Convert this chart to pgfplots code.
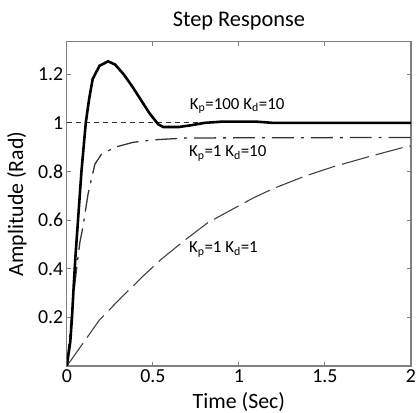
\documentclass[border=0pt]{standalone}
\usepackage{fontspec}
\setmainfont{Carlito}
\usepackage{pgfplots}
\pgfplotsset{compat=1.18}

\begin{document}
\begin{tikzpicture}
\begin{axis}[
    scale only axis,
    width=345bp, height=325bp,
    xmin=0, xmax=2, ymin=0, ymax=1.333,
    xtick={0,0.5,1,1.5,2},
    ytick={0.2,0.4,0.6,0.8,1,1.2},
    xticklabels={0,0.5,1,1.5,2},
    yticklabels={0.2,0.4,0.6,0.8,1,1.2},
    tick align=inside,
    major tick length=4bp,
    axis line style={draw=black!50, line width=1.2pt},
    every tick/.style={draw=black!50, line width=1pt},
    tick label style={font=\fontsize{20}{22}\selectfont},
    xticklabel style={inner xsep=0pt},
    yticklabel style={inner ysep=0pt},
    title={Step Response},
    title style={font=\fontsize{22.5}{24}\selectfont, at={(axis description cs:0.5,1)},
        anchor=south, inner sep=0pt, yshift=6bp},
    xlabel={Time (Sec)},
    xlabel style={font=\fontsize{22}{24}\selectfont, at={(axis description cs:0.5,0)},
        anchor=north, inner sep=0pt, yshift=-26bp},
    ylabel={Amplitude (Rad)},
    ylabel style={font=\fontsize{22}{24}\selectfont, at={(axis description cs:0,0.5)},
        anchor=south, inner sep=0pt, yshift=40bp},
]
% reference
\addplot[black!80, line width=1.1pt, dash pattern=on 5bp off 4bp] coordinates {(0,1) (2,1)};
% Kp=1 Kd=1
\addplot[black!75, line width=1.1pt, dash pattern=on 28bp off 7bp] coordinates {
(0,0) (0.1,0.1) (0.19,0.19) (0.3,0.27) (0.443,0.37) (0.55,0.44) (0.69,0.52)
(0.82,0.59) (0.95,0.64) (1.08,0.69) (1.2,0.73) (1.38,0.78) (1.55,0.82)
(1.75,0.86) (1.96,0.90) (2,0.905)
};
% Kp=1 Kd=10
\addplot[black!80, line width=1.3pt, dash pattern=on 22bp off 7bp on 3bp off 7bp] coordinates {
(0,0) (0.02,0.15) (0.04,0.3) (0.06,0.42) (0.076,0.51) (0.093,0.57) (0.124,0.71)
(0.163,0.83) (0.2,0.87) (0.28,0.9) (0.385,0.92) (0.5,0.93) (0.7,0.938) (2,0.94)
};
% Kp=100 Kd=10
\addplot[black, line width=2.6pt] coordinates {
(0,0) (0.02,0.1) (0.03,0.2) (0.04,0.33) (0.05,0.45) (0.065,0.6) (0.085,0.8)
(0.11,1.0) (0.13,1.1) (0.15,1.18) (0.19,1.235) (0.24,1.253) (0.28,1.24)
(0.33,1.2) (0.38,1.15) (0.43,1.095) (0.48,1.04) (0.53,0.995) (0.56,0.983)
(0.65,0.983) (0.72,0.99) (0.8,1.0) (0.9,1.005) (1.1,1.005) (1.2,1.0) (2,1.0)
};
\node[font=\fontsize{17}{19}\selectfont] at (axis cs:0.99,1.07) {K\textsubscript{p}=100 K\textsubscript{d}=10};
\node[font=\fontsize{17}{19}\selectfont] at (axis cs:0.935,0.875) {K\textsubscript{p}=1 K\textsubscript{d}=10};
\node[font=\fontsize{17}{19}\selectfont] at (axis cs:0.91,0.48) {K\textsubscript{p}=1 K\textsubscript{d}=1};
\end{axis}
\path (current axis.south west) ++(-67bp,-47bp) rectangle ++(416bp,414bp);
\end{tikzpicture}
\end{document}
